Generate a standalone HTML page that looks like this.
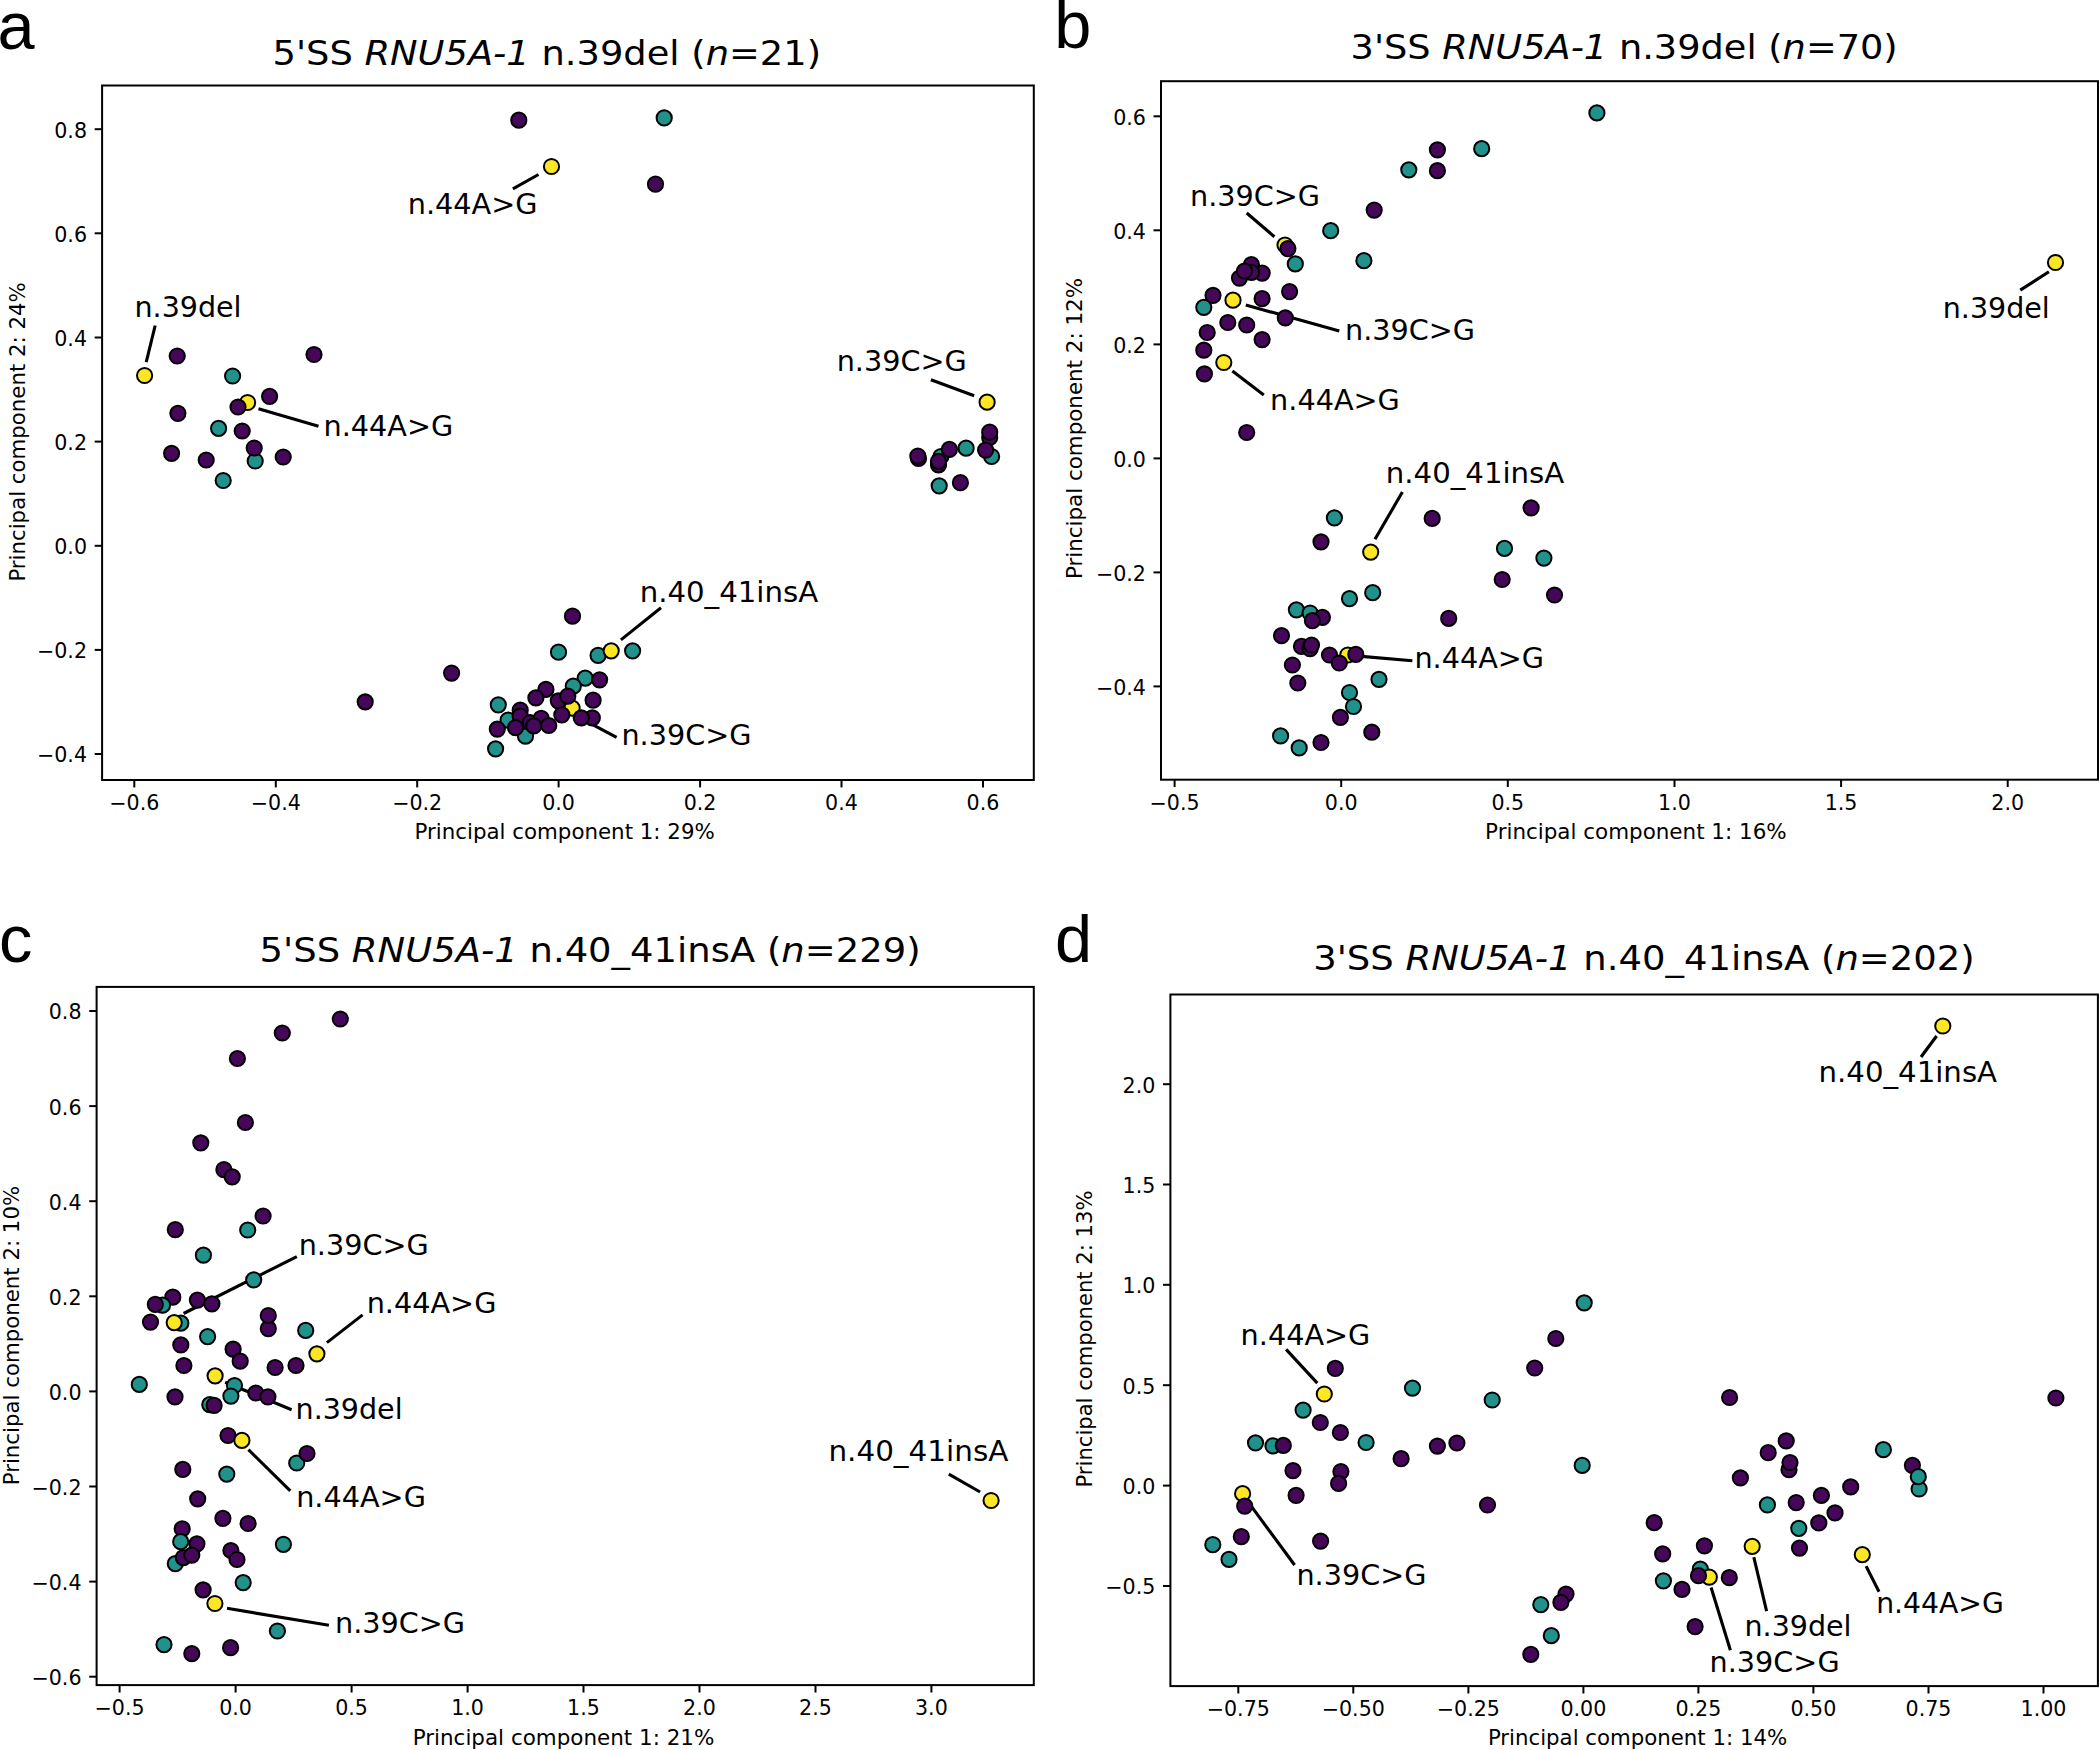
<!DOCTYPE html>
<html lang="en"><head><meta charset="utf-8"><title>PCA panels</title>
<style>html,body{margin:0;padding:0;background:#fff}svg{display:block}text{font-family:"DejaVu Sans", "Liberation Sans", sans-serif;fill:#000}.lt{font-family:"Liberation Sans", "DejaVu Sans", sans-serif}</style></head><body>
<svg width="2099" height="1750" viewBox="0 0 2099 1750">
<rect width="2099" height="1750" fill="#fff"/>
<g id="panel-a">
<g stroke="#000" stroke-width="3.1" fill="none">
<line x1="538.5" y1="174.5" x2="512.9" y2="188.8"/>
<line x1="155.2" y1="325.5" x2="146.2" y2="362.2"/>
<line x1="258.5" y1="408.8" x2="318.5" y2="426.2"/>
<line x1="930.9" y1="379.8" x2="974.2" y2="395.8"/>
<line x1="661.0" y1="607.8" x2="620.9" y2="639.9"/>
<line x1="593.1" y1="724.8" x2="616.6" y2="737.4"/>
</g>
<g stroke="#000" stroke-width="2.00">
<circle cx="518.8" cy="120.2" r="7.60" fill="#46065a"/>
<circle cx="664.2" cy="117.9" r="7.60" fill="#21918c"/>
<circle cx="551.5" cy="166.5" r="7.60" fill="#fde725"/>
<circle cx="655.5" cy="184.2" r="7.60" fill="#46065a"/>
<circle cx="144.6" cy="375.5" r="7.60" fill="#fde725"/>
<circle cx="177.2" cy="356.0" r="7.60" fill="#46065a"/>
<circle cx="314.0" cy="354.5" r="7.60" fill="#46065a"/>
<circle cx="232.6" cy="376.0" r="7.60" fill="#21918c"/>
<circle cx="247.6" cy="402.5" r="7.60" fill="#fde725"/>
<circle cx="238.0" cy="407.0" r="7.60" fill="#46065a"/>
<circle cx="269.6" cy="396.3" r="7.60" fill="#46065a"/>
<circle cx="177.9" cy="413.3" r="7.60" fill="#46065a"/>
<circle cx="218.6" cy="428.3" r="7.60" fill="#21918c"/>
<circle cx="242.2" cy="431.0" r="7.60" fill="#46065a"/>
<circle cx="255.2" cy="461.0" r="7.60" fill="#21918c"/>
<circle cx="254.2" cy="448.0" r="7.60" fill="#46065a"/>
<circle cx="283.2" cy="457.0" r="7.60" fill="#46065a"/>
<circle cx="171.6" cy="453.3" r="7.60" fill="#46065a"/>
<circle cx="206.2" cy="460.0" r="7.60" fill="#46065a"/>
<circle cx="223.2" cy="480.5" r="7.60" fill="#21918c"/>
<circle cx="987.1" cy="402.2" r="7.60" fill="#fde725"/>
<circle cx="989.7" cy="437.5" r="7.60" fill="#46065a"/>
<circle cx="989.7" cy="432.2" r="7.60" fill="#46065a"/>
<circle cx="991.6" cy="456.5" r="7.60" fill="#21918c"/>
<circle cx="985.6" cy="450.1" r="7.60" fill="#46065a"/>
<circle cx="966.1" cy="448.2" r="7.60" fill="#21918c"/>
<circle cx="940.9" cy="456.5" r="7.60" fill="#21918c"/>
<circle cx="949.4" cy="449.4" r="7.60" fill="#46065a"/>
<circle cx="918.5" cy="458.5" r="7.60" fill="#46065a"/>
<circle cx="917.8" cy="456.1" r="7.60" fill="#46065a"/>
<circle cx="938.5" cy="464.9" r="7.60" fill="#46065a"/>
<circle cx="938.5" cy="461.3" r="7.60" fill="#46065a"/>
<circle cx="939.2" cy="485.8" r="7.60" fill="#21918c"/>
<circle cx="960.4" cy="482.7" r="7.60" fill="#46065a"/>
<circle cx="572.5" cy="616.2" r="7.60" fill="#46065a"/>
<circle cx="451.6" cy="673.1" r="7.60" fill="#46065a"/>
<circle cx="365.2" cy="701.8" r="7.60" fill="#46065a"/>
<circle cx="558.5" cy="652.2" r="7.60" fill="#21918c"/>
<circle cx="598.1" cy="655.4" r="7.60" fill="#21918c"/>
<circle cx="611.2" cy="650.8" r="7.60" fill="#fde725"/>
<circle cx="632.6" cy="650.8" r="7.60" fill="#21918c"/>
<circle cx="585.2" cy="678.1" r="7.60" fill="#21918c"/>
<circle cx="599.6" cy="679.8" r="7.60" fill="#46065a"/>
<circle cx="573.3" cy="686.2" r="7.60" fill="#21918c"/>
<circle cx="545.9" cy="689.4" r="7.60" fill="#46065a"/>
<circle cx="535.9" cy="697.9" r="7.60" fill="#46065a"/>
<circle cx="558.3" cy="700.8" r="7.60" fill="#46065a"/>
<circle cx="572.1" cy="708.1" r="7.60" fill="#fde725"/>
<circle cx="567.8" cy="696.2" r="7.60" fill="#46065a"/>
<circle cx="593.1" cy="700.2" r="7.60" fill="#46065a"/>
<circle cx="561.8" cy="714.8" r="7.60" fill="#46065a"/>
<circle cx="592.3" cy="717.9" r="7.60" fill="#46065a"/>
<circle cx="581.3" cy="717.9" r="7.60" fill="#46065a"/>
<circle cx="498.3" cy="704.8" r="7.60" fill="#21918c"/>
<circle cx="520.2" cy="710.2" r="7.60" fill="#46065a"/>
<circle cx="508.1" cy="720.2" r="7.60" fill="#21918c"/>
<circle cx="520.2" cy="716.2" r="7.60" fill="#46065a"/>
<circle cx="525.5" cy="736.2" r="7.60" fill="#21918c"/>
<circle cx="530.2" cy="722.5" r="7.60" fill="#46065a"/>
<circle cx="541.2" cy="718.4" r="7.60" fill="#46065a"/>
<circle cx="497.3" cy="729.1" r="7.60" fill="#46065a"/>
<circle cx="515.5" cy="727.6" r="7.60" fill="#46065a"/>
<circle cx="533.8" cy="725.9" r="7.60" fill="#46065a"/>
<circle cx="548.8" cy="725.5" r="7.60" fill="#46065a"/>
<circle cx="495.6" cy="748.8" r="7.60" fill="#21918c"/>
</g>
<rect x="102.1" y="85.5" width="931.7" height="694.5" fill="none" stroke="#000" stroke-width="2.00"/>
<g stroke="#000" stroke-width="2.00">
<line x1="94.7" y1="129.2" x2="102.1" y2="129.2"/>
<line x1="94.7" y1="233.3" x2="102.1" y2="233.3"/>
<line x1="94.7" y1="337.5" x2="102.1" y2="337.5"/>
<line x1="94.7" y1="441.6" x2="102.1" y2="441.6"/>
<line x1="94.7" y1="545.8" x2="102.1" y2="545.8"/>
<line x1="94.7" y1="649.9" x2="102.1" y2="649.9"/>
<line x1="94.7" y1="754.0" x2="102.1" y2="754.0"/>
<line x1="134.3" y1="780.0" x2="134.3" y2="787.4"/>
<line x1="275.8" y1="780.0" x2="275.8" y2="787.4"/>
<line x1="417.2" y1="780.0" x2="417.2" y2="787.4"/>
<line x1="558.6" y1="780.0" x2="558.6" y2="787.4"/>
<line x1="700.1" y1="780.0" x2="700.1" y2="787.4"/>
<line x1="841.5" y1="780.0" x2="841.5" y2="787.4"/>
<line x1="983.0" y1="780.0" x2="983.0" y2="787.4"/>
</g>
<g font-size="20.60">
<text x="87.0" y="137.6" text-anchor="end">0.8</text>
<text x="87.0" y="241.8" text-anchor="end">0.6</text>
<text x="87.0" y="345.9" text-anchor="end">0.4</text>
<text x="87.0" y="450.0" text-anchor="end">0.2</text>
<text x="87.0" y="554.1" text-anchor="end">0.0</text>
<text x="87.0" y="658.3" text-anchor="end">−0.2</text>
<text x="87.0" y="762.4" text-anchor="end">−0.4</text>
<text x="134.3" y="810.0" text-anchor="middle">−0.6</text>
<text x="275.8" y="810.0" text-anchor="middle">−0.4</text>
<text x="417.2" y="810.0" text-anchor="middle">−0.2</text>
<text x="558.6" y="810.0" text-anchor="middle">0.0</text>
<text x="700.1" y="810.0" text-anchor="middle">0.2</text>
<text x="841.5" y="810.0" text-anchor="middle">0.4</text>
<text x="983.0" y="810.0" text-anchor="middle">0.6</text>
</g>
<text x="414.5" y="839.0" font-size="20.83" textLength="300.3" lengthAdjust="spacingAndGlyphs">Principal component 1: 29%</text>
<text transform="translate(24.7 581.6) rotate(-90)" font-size="20.83" textLength="299.4" lengthAdjust="spacingAndGlyphs">Principal component 2: 24%</text>
<g font-size="27.78">
<text x="407.8" y="214.1" textLength="129.7" lengthAdjust="spacingAndGlyphs">n.44A&gt;G</text>
<text x="134.5" y="317.4" textLength="107.0" lengthAdjust="spacingAndGlyphs">n.39del</text>
<text x="323.5" y="435.8" textLength="129.7" lengthAdjust="spacingAndGlyphs">n.44A&gt;G</text>
<text x="836.7" y="371.4" textLength="130.0" lengthAdjust="spacingAndGlyphs">n.39C&gt;G</text>
<text x="639.7" y="602.0" textLength="178.5" lengthAdjust="spacingAndGlyphs">n.40_41insA</text>
<text x="621.4" y="745.0" textLength="130.0" lengthAdjust="spacingAndGlyphs">n.39C&gt;G</text>
</g>
<text x="272.5" y="65.0" font-size="34.40" textLength="548.5" lengthAdjust="spacingAndGlyphs" xml:space="preserve">5&#39;SS <tspan font-style="italic">RNU5A-1</tspan> n.39del (<tspan font-style="italic">n</tspan>=21)</text>
<text class="lt" x="-2.5" y="48.8" font-size="66.7">a</text>
</g>
<g id="panel-b">
<g stroke="#000" stroke-width="3.1" fill="none">
<line x1="1246.7" y1="213.0" x2="1274.4" y2="236.7"/>
<line x1="1245.8" y1="305.0" x2="1339.3" y2="331.0"/>
<line x1="1232.4" y1="371.1" x2="1263.8" y2="395.1"/>
<line x1="2048.9" y1="271.7" x2="2020.3" y2="290.1"/>
<line x1="1402.4" y1="492.0" x2="1375.0" y2="539.2"/>
<line x1="1361.5" y1="656.4" x2="1412.4" y2="660.7"/>
</g>
<g stroke="#000" stroke-width="2.00">
<circle cx="1596.9" cy="112.9" r="7.60" fill="#21918c"/>
<circle cx="1437.4" cy="149.8" r="7.60" fill="#46065a"/>
<circle cx="1481.7" cy="148.7" r="7.60" fill="#21918c"/>
<circle cx="1408.8" cy="169.8" r="7.60" fill="#21918c"/>
<circle cx="1437.4" cy="170.7" r="7.60" fill="#46065a"/>
<circle cx="1374.2" cy="210.1" r="7.60" fill="#46065a"/>
<circle cx="1330.7" cy="230.7" r="7.60" fill="#21918c"/>
<circle cx="1363.9" cy="260.7" r="7.60" fill="#21918c"/>
<circle cx="1285.0" cy="245.0" r="7.60" fill="#fde725"/>
<circle cx="1287.9" cy="248.6" r="7.60" fill="#46065a"/>
<circle cx="1295.3" cy="263.9" r="7.60" fill="#21918c"/>
<circle cx="1251.4" cy="264.5" r="7.60" fill="#46065a"/>
<circle cx="1262.2" cy="273.1" r="7.60" fill="#46065a"/>
<circle cx="1251.5" cy="272.3" r="7.60" fill="#46065a"/>
<circle cx="1239.5" cy="278.1" r="7.60" fill="#46065a"/>
<circle cx="1244.5" cy="271.0" r="7.60" fill="#46065a"/>
<circle cx="1289.6" cy="291.6" r="7.60" fill="#46065a"/>
<circle cx="1213.0" cy="295.3" r="7.60" fill="#46065a"/>
<circle cx="1262.1" cy="298.7" r="7.60" fill="#46065a"/>
<circle cx="1233.0" cy="300.2" r="7.60" fill="#fde725"/>
<circle cx="1203.8" cy="307.3" r="7.60" fill="#21918c"/>
<circle cx="1285.3" cy="317.9" r="7.60" fill="#46065a"/>
<circle cx="1227.8" cy="322.5" r="7.60" fill="#46065a"/>
<circle cx="1246.7" cy="325.0" r="7.60" fill="#46065a"/>
<circle cx="1207.2" cy="332.5" r="7.60" fill="#46065a"/>
<circle cx="1262.1" cy="339.6" r="7.60" fill="#46065a"/>
<circle cx="1203.8" cy="350.2" r="7.60" fill="#46065a"/>
<circle cx="1223.8" cy="362.5" r="7.60" fill="#fde725"/>
<circle cx="1204.4" cy="373.9" r="7.60" fill="#46065a"/>
<circle cx="1246.7" cy="432.5" r="7.60" fill="#46065a"/>
<circle cx="2055.5" cy="262.5" r="7.60" fill="#fde725"/>
<circle cx="1334.4" cy="517.8" r="7.60" fill="#21918c"/>
<circle cx="1432.2" cy="518.4" r="7.60" fill="#46065a"/>
<circle cx="1531.1" cy="507.8" r="7.60" fill="#46065a"/>
<circle cx="1321.0" cy="541.8" r="7.60" fill="#46065a"/>
<circle cx="1370.7" cy="552.1" r="7.60" fill="#fde725"/>
<circle cx="1504.5" cy="548.4" r="7.60" fill="#21918c"/>
<circle cx="1543.9" cy="558.1" r="7.60" fill="#21918c"/>
<circle cx="1502.2" cy="579.5" r="7.60" fill="#46065a"/>
<circle cx="1554.5" cy="595.0" r="7.60" fill="#46065a"/>
<circle cx="1372.7" cy="592.7" r="7.60" fill="#21918c"/>
<circle cx="1349.5" cy="598.7" r="7.60" fill="#21918c"/>
<circle cx="1448.7" cy="618.4" r="7.60" fill="#46065a"/>
<circle cx="1296.4" cy="609.8" r="7.60" fill="#21918c"/>
<circle cx="1310.1" cy="613.0" r="7.60" fill="#21918c"/>
<circle cx="1322.4" cy="617.3" r="7.60" fill="#46065a"/>
<circle cx="1312.4" cy="620.7" r="7.60" fill="#46065a"/>
<circle cx="1281.5" cy="635.6" r="7.60" fill="#46065a"/>
<circle cx="1301.5" cy="646.4" r="7.60" fill="#46065a"/>
<circle cx="1310.1" cy="648.7" r="7.60" fill="#46065a"/>
<circle cx="1311.5" cy="645.0" r="7.60" fill="#46065a"/>
<circle cx="1329.5" cy="655.0" r="7.60" fill="#46065a"/>
<circle cx="1347.8" cy="655.0" r="7.60" fill="#fde725"/>
<circle cx="1339.3" cy="663.0" r="7.60" fill="#46065a"/>
<circle cx="1355.8" cy="654.4" r="7.60" fill="#46065a"/>
<circle cx="1292.4" cy="665.0" r="7.60" fill="#46065a"/>
<circle cx="1297.8" cy="683.0" r="7.60" fill="#46065a"/>
<circle cx="1379.0" cy="679.3" r="7.60" fill="#21918c"/>
<circle cx="1349.5" cy="692.5" r="7.60" fill="#21918c"/>
<circle cx="1353.5" cy="706.5" r="7.60" fill="#21918c"/>
<circle cx="1340.4" cy="717.3" r="7.60" fill="#46065a"/>
<circle cx="1371.8" cy="732.2" r="7.60" fill="#46065a"/>
<circle cx="1280.6" cy="735.9" r="7.60" fill="#21918c"/>
<circle cx="1299.2" cy="747.9" r="7.60" fill="#21918c"/>
<circle cx="1321.0" cy="742.5" r="7.60" fill="#46065a"/>
</g>
<rect x="1161.0" y="81.2" width="937.0" height="698.5" fill="none" stroke="#000" stroke-width="2.00"/>
<g stroke="#000" stroke-width="2.00">
<line x1="1153.5" y1="116.3" x2="1161.0" y2="116.3"/>
<line x1="1153.5" y1="230.3" x2="1161.0" y2="230.3"/>
<line x1="1153.5" y1="344.4" x2="1161.0" y2="344.4"/>
<line x1="1153.5" y1="458.4" x2="1161.0" y2="458.4"/>
<line x1="1153.5" y1="572.4" x2="1161.0" y2="572.4"/>
<line x1="1153.5" y1="686.4" x2="1161.0" y2="686.4"/>
<line x1="1174.6" y1="779.6" x2="1174.6" y2="787.0"/>
<line x1="1341.2" y1="779.6" x2="1341.2" y2="787.0"/>
<line x1="1507.8" y1="779.6" x2="1507.8" y2="787.0"/>
<line x1="1674.5" y1="779.6" x2="1674.5" y2="787.0"/>
<line x1="1841.1" y1="779.6" x2="1841.1" y2="787.0"/>
<line x1="2007.7" y1="779.6" x2="2007.7" y2="787.0"/>
</g>
<g font-size="20.60">
<text x="1145.9" y="124.8" text-anchor="end">0.6</text>
<text x="1145.9" y="238.8" text-anchor="end">0.4</text>
<text x="1145.9" y="352.8" text-anchor="end">0.2</text>
<text x="1145.9" y="466.8" text-anchor="end">0.0</text>
<text x="1145.9" y="580.8" text-anchor="end">−0.2</text>
<text x="1145.9" y="694.8" text-anchor="end">−0.4</text>
<text x="1174.6" y="809.6" text-anchor="middle">−0.5</text>
<text x="1341.2" y="809.6" text-anchor="middle">0.0</text>
<text x="1507.8" y="809.6" text-anchor="middle">0.5</text>
<text x="1674.5" y="809.6" text-anchor="middle">1.0</text>
<text x="1841.1" y="809.6" text-anchor="middle">1.5</text>
<text x="2007.7" y="809.6" text-anchor="middle">2.0</text>
</g>
<text x="1485.1" y="838.8" font-size="20.83" textLength="301.6" lengthAdjust="spacingAndGlyphs">Principal component 1: 16%</text>
<text transform="translate(1082.1 579.0) rotate(-90)" font-size="20.83" textLength="301.0" lengthAdjust="spacingAndGlyphs">Principal component 2: 12%</text>
<g font-size="27.78">
<text x="1190.0" y="206.1" textLength="130.0" lengthAdjust="spacingAndGlyphs">n.39C&gt;G</text>
<text x="1345.0" y="340.1" textLength="130.0" lengthAdjust="spacingAndGlyphs">n.39C&gt;G</text>
<text x="1270.1" y="410.1" textLength="129.7" lengthAdjust="spacingAndGlyphs">n.44A&gt;G</text>
<text x="1942.8" y="318.4" textLength="107.0" lengthAdjust="spacingAndGlyphs">n.39del</text>
<text x="1385.8" y="483.1" textLength="178.5" lengthAdjust="spacingAndGlyphs">n.40_41insA</text>
<text x="1414.4" y="668.0" textLength="129.7" lengthAdjust="spacingAndGlyphs">n.44A&gt;G</text>
</g>
<text x="1350.6" y="58.6" font-size="34.40" textLength="547.1" lengthAdjust="spacingAndGlyphs" xml:space="preserve">3&#39;SS <tspan font-style="italic">RNU5A-1</tspan> n.39del (<tspan font-style="italic">n</tspan>=70)</text>
<text class="lt" x="1054.3" y="47.8" font-size="66.7">b</text>
</g>
<g id="panel-c">
<g stroke="#000" stroke-width="3.1" fill="none">
<line x1="296.8" y1="1256.6" x2="183.6" y2="1313.5"/>
<line x1="362.6" y1="1314.9" x2="326.9" y2="1342.6"/>
<line x1="225.2" y1="1382.2" x2="291.6" y2="1409.7"/>
<line x1="248.4" y1="1449.6" x2="290.3" y2="1490.8"/>
<line x1="227.0" y1="1608.3" x2="328.9" y2="1625.3"/>
<line x1="948.8" y1="1474.1" x2="980.1" y2="1492.0"/>
</g>
<g stroke="#000" stroke-width="2.00">
<circle cx="340.3" cy="1019.0" r="7.60" fill="#46065a"/>
<circle cx="282.3" cy="1033.0" r="7.60" fill="#46065a"/>
<circle cx="237.4" cy="1058.5" r="7.60" fill="#46065a"/>
<circle cx="245.4" cy="1122.5" r="7.60" fill="#46065a"/>
<circle cx="200.8" cy="1142.8" r="7.60" fill="#46065a"/>
<circle cx="223.9" cy="1169.7" r="7.60" fill="#46065a"/>
<circle cx="232.2" cy="1176.8" r="7.60" fill="#46065a"/>
<circle cx="263.1" cy="1216.0" r="7.60" fill="#46065a"/>
<circle cx="247.7" cy="1230.0" r="7.60" fill="#21918c"/>
<circle cx="175.3" cy="1229.7" r="7.60" fill="#46065a"/>
<circle cx="203.4" cy="1255.2" r="7.60" fill="#21918c"/>
<circle cx="253.7" cy="1279.8" r="7.60" fill="#21918c"/>
<circle cx="172.8" cy="1297.2" r="7.60" fill="#46065a"/>
<circle cx="162.5" cy="1305.2" r="7.60" fill="#21918c"/>
<circle cx="155.3" cy="1304.3" r="7.60" fill="#46065a"/>
<circle cx="197.4" cy="1300.1" r="7.60" fill="#46065a"/>
<circle cx="211.9" cy="1303.8" r="7.60" fill="#46065a"/>
<circle cx="150.5" cy="1322.1" r="7.60" fill="#46065a"/>
<circle cx="180.8" cy="1323.2" r="7.60" fill="#21918c"/>
<circle cx="174.2" cy="1322.6" r="7.60" fill="#fde725"/>
<circle cx="268.3" cy="1328.6" r="7.60" fill="#46065a"/>
<circle cx="268.3" cy="1315.5" r="7.60" fill="#46065a"/>
<circle cx="305.7" cy="1330.4" r="7.60" fill="#21918c"/>
<circle cx="207.6" cy="1336.6" r="7.60" fill="#21918c"/>
<circle cx="180.8" cy="1344.9" r="7.60" fill="#46065a"/>
<circle cx="233.1" cy="1349.2" r="7.60" fill="#46065a"/>
<circle cx="316.9" cy="1353.8" r="7.60" fill="#fde725"/>
<circle cx="240.2" cy="1361.2" r="7.60" fill="#46065a"/>
<circle cx="183.9" cy="1365.5" r="7.60" fill="#46065a"/>
<circle cx="275.1" cy="1367.5" r="7.60" fill="#46065a"/>
<circle cx="296.0" cy="1365.5" r="7.60" fill="#46065a"/>
<circle cx="215.1" cy="1375.8" r="7.60" fill="#fde725"/>
<circle cx="139.3" cy="1384.4" r="7.60" fill="#21918c"/>
<circle cx="234.5" cy="1385.5" r="7.60" fill="#21918c"/>
<circle cx="230.9" cy="1396.1" r="7.60" fill="#21918c"/>
<circle cx="255.8" cy="1393.0" r="7.60" fill="#46065a"/>
<circle cx="267.9" cy="1396.9" r="7.60" fill="#46065a"/>
<circle cx="175.0" cy="1396.9" r="7.60" fill="#46065a"/>
<circle cx="209.8" cy="1404.6" r="7.60" fill="#21918c"/>
<circle cx="214.1" cy="1405.4" r="7.60" fill="#46065a"/>
<circle cx="228.0" cy="1435.5" r="7.60" fill="#46065a"/>
<circle cx="241.9" cy="1440.4" r="7.60" fill="#fde725"/>
<circle cx="296.7" cy="1463.0" r="7.60" fill="#21918c"/>
<circle cx="307.0" cy="1453.5" r="7.60" fill="#46065a"/>
<circle cx="182.8" cy="1469.4" r="7.60" fill="#46065a"/>
<circle cx="226.8" cy="1474.1" r="7.60" fill="#21918c"/>
<circle cx="197.7" cy="1498.8" r="7.60" fill="#46065a"/>
<circle cx="222.9" cy="1518.3" r="7.60" fill="#46065a"/>
<circle cx="248.1" cy="1523.5" r="7.60" fill="#46065a"/>
<circle cx="182.2" cy="1528.9" r="7.60" fill="#46065a"/>
<circle cx="180.7" cy="1541.7" r="7.60" fill="#21918c"/>
<circle cx="196.9" cy="1543.8" r="7.60" fill="#46065a"/>
<circle cx="283.4" cy="1544.3" r="7.60" fill="#21918c"/>
<circle cx="230.9" cy="1550.5" r="7.60" fill="#46065a"/>
<circle cx="237.0" cy="1559.5" r="7.60" fill="#46065a"/>
<circle cx="175.3" cy="1563.6" r="7.60" fill="#21918c"/>
<circle cx="183.3" cy="1557.7" r="7.60" fill="#46065a"/>
<circle cx="191.8" cy="1555.1" r="7.60" fill="#46065a"/>
<circle cx="243.2" cy="1582.6" r="7.60" fill="#21918c"/>
<circle cx="203.1" cy="1589.8" r="7.60" fill="#46065a"/>
<circle cx="214.9" cy="1603.5" r="7.60" fill="#fde725"/>
<circle cx="277.4" cy="1631.0" r="7.60" fill="#21918c"/>
<circle cx="164.0" cy="1644.6" r="7.60" fill="#21918c"/>
<circle cx="191.8" cy="1653.6" r="7.60" fill="#46065a"/>
<circle cx="230.6" cy="1647.7" r="7.60" fill="#46065a"/>
<circle cx="991.1" cy="1500.5" r="7.60" fill="#fde725"/>
</g>
<rect x="96.6" y="986.9" width="937.2" height="698.2" fill="none" stroke="#000" stroke-width="2.00"/>
<g stroke="#000" stroke-width="2.00">
<line x1="89.2" y1="1011.0" x2="96.6" y2="1011.0"/>
<line x1="89.2" y1="1106.1" x2="96.6" y2="1106.1"/>
<line x1="89.2" y1="1201.2" x2="96.6" y2="1201.2"/>
<line x1="89.2" y1="1296.3" x2="96.6" y2="1296.3"/>
<line x1="89.2" y1="1391.4" x2="96.6" y2="1391.4"/>
<line x1="89.2" y1="1486.5" x2="96.6" y2="1486.5"/>
<line x1="89.2" y1="1581.6" x2="96.6" y2="1581.6"/>
<line x1="89.2" y1="1676.7" x2="96.6" y2="1676.7"/>
<line x1="119.6" y1="1685.1" x2="119.6" y2="1692.5"/>
<line x1="235.6" y1="1685.1" x2="235.6" y2="1692.5"/>
<line x1="351.6" y1="1685.1" x2="351.6" y2="1692.5"/>
<line x1="467.6" y1="1685.1" x2="467.6" y2="1692.5"/>
<line x1="583.5" y1="1685.1" x2="583.5" y2="1692.5"/>
<line x1="699.5" y1="1685.1" x2="699.5" y2="1692.5"/>
<line x1="815.5" y1="1685.1" x2="815.5" y2="1692.5"/>
<line x1="931.4" y1="1685.1" x2="931.4" y2="1692.5"/>
</g>
<g font-size="20.60">
<text x="81.5" y="1019.4" text-anchor="end">0.8</text>
<text x="81.5" y="1114.5" text-anchor="end">0.6</text>
<text x="81.5" y="1209.6" text-anchor="end">0.4</text>
<text x="81.5" y="1304.7" text-anchor="end">0.2</text>
<text x="81.5" y="1399.8" text-anchor="end">0.0</text>
<text x="81.5" y="1494.9" text-anchor="end">−0.2</text>
<text x="81.5" y="1590.0" text-anchor="end">−0.4</text>
<text x="81.5" y="1685.1" text-anchor="end">−0.6</text>
<text x="119.6" y="1715.1" text-anchor="middle">−0.5</text>
<text x="235.6" y="1715.1" text-anchor="middle">0.0</text>
<text x="351.6" y="1715.1" text-anchor="middle">0.5</text>
<text x="467.6" y="1715.1" text-anchor="middle">1.0</text>
<text x="583.5" y="1715.1" text-anchor="middle">1.5</text>
<text x="699.5" y="1715.1" text-anchor="middle">2.0</text>
<text x="815.5" y="1715.1" text-anchor="middle">2.5</text>
<text x="931.4" y="1715.1" text-anchor="middle">3.0</text>
</g>
<text x="412.7" y="1744.6" font-size="20.83" textLength="301.7" lengthAdjust="spacingAndGlyphs">Principal component 1: 21%</text>
<text transform="translate(18.5 1485.3) rotate(-90)" font-size="20.83" textLength="299.5" lengthAdjust="spacingAndGlyphs">Principal component 2: 10%</text>
<g font-size="27.78">
<text x="298.7" y="1255.2" textLength="130.0" lengthAdjust="spacingAndGlyphs">n.39C&gt;G</text>
<text x="366.7" y="1313.2" textLength="129.7" lengthAdjust="spacingAndGlyphs">n.44A&gt;G</text>
<text x="295.6" y="1419.0" textLength="107.0" lengthAdjust="spacingAndGlyphs">n.39del</text>
<text x="296.2" y="1506.5" textLength="129.7" lengthAdjust="spacingAndGlyphs">n.44A&gt;G</text>
<text x="335.0" y="1632.7" textLength="130.0" lengthAdjust="spacingAndGlyphs">n.39C&gt;G</text>
<text x="828.4" y="1461.0" textLength="180.0" lengthAdjust="spacingAndGlyphs">n.40_41insA</text>
</g>
<text x="259.6" y="962.4" font-size="34.40" textLength="661.0" lengthAdjust="spacingAndGlyphs" xml:space="preserve">5&#39;SS <tspan font-style="italic">RNU5A-1</tspan> n.40_41insA (<tspan font-style="italic">n</tspan>=229)</text>
<text class="lt" x="-1.0" y="962.0" font-size="66.7">c</text>
</g>
<g id="panel-d">
<g stroke="#000" stroke-width="3.1" fill="none">
<line x1="1936.6" y1="1036.0" x2="1921.0" y2="1057.0"/>
<line x1="1286.1" y1="1349.4" x2="1317.3" y2="1383.1"/>
<line x1="1249.0" y1="1503.2" x2="1294.6" y2="1565.0"/>
<line x1="1866.1" y1="1566.1" x2="1879.0" y2="1591.8"/>
<line x1="1753.8" y1="1557.1" x2="1766.6" y2="1611.1"/>
<line x1="1711.1" y1="1587.5" x2="1730.4" y2="1650.2"/>
</g>
<g stroke="#000" stroke-width="2.00">
<circle cx="1942.8" cy="1026.0" r="7.60" fill="#fde725"/>
<circle cx="1584.2" cy="1302.8" r="7.60" fill="#21918c"/>
<circle cx="1555.8" cy="1338.5" r="7.60" fill="#46065a"/>
<circle cx="1534.7" cy="1368.0" r="7.60" fill="#46065a"/>
<circle cx="1335.3" cy="1368.3" r="7.60" fill="#46065a"/>
<circle cx="1412.5" cy="1388.1" r="7.60" fill="#21918c"/>
<circle cx="1324.3" cy="1394.0" r="7.60" fill="#fde725"/>
<circle cx="1492.2" cy="1400.0" r="7.60" fill="#21918c"/>
<circle cx="1303.1" cy="1410.1" r="7.60" fill="#21918c"/>
<circle cx="1320.3" cy="1422.5" r="7.60" fill="#46065a"/>
<circle cx="1340.4" cy="1432.5" r="7.60" fill="#46065a"/>
<circle cx="1366.1" cy="1442.5" r="7.60" fill="#21918c"/>
<circle cx="1255.5" cy="1442.8" r="7.60" fill="#21918c"/>
<circle cx="1273.0" cy="1445.9" r="7.60" fill="#21918c"/>
<circle cx="1283.3" cy="1445.4" r="7.60" fill="#46065a"/>
<circle cx="1437.4" cy="1446.1" r="7.60" fill="#46065a"/>
<circle cx="1456.9" cy="1443.0" r="7.60" fill="#46065a"/>
<circle cx="1401.1" cy="1458.7" r="7.60" fill="#46065a"/>
<circle cx="1582.2" cy="1465.4" r="7.60" fill="#21918c"/>
<circle cx="1293.0" cy="1470.6" r="7.60" fill="#46065a"/>
<circle cx="1340.9" cy="1471.6" r="7.60" fill="#46065a"/>
<circle cx="1338.6" cy="1483.4" r="7.60" fill="#46065a"/>
<circle cx="1242.6" cy="1493.7" r="7.60" fill="#fde725"/>
<circle cx="1244.7" cy="1506.1" r="7.60" fill="#46065a"/>
<circle cx="1296.1" cy="1495.3" r="7.60" fill="#46065a"/>
<circle cx="1487.5" cy="1505.0" r="7.60" fill="#46065a"/>
<circle cx="1241.3" cy="1536.7" r="7.60" fill="#46065a"/>
<circle cx="1212.8" cy="1544.7" r="7.60" fill="#21918c"/>
<circle cx="1229.0" cy="1559.3" r="7.60" fill="#21918c"/>
<circle cx="1320.6" cy="1541.1" r="7.60" fill="#46065a"/>
<circle cx="1654.2" cy="1522.6" r="7.60" fill="#46065a"/>
<circle cx="1662.7" cy="1553.9" r="7.60" fill="#46065a"/>
<circle cx="1663.4" cy="1580.8" r="7.60" fill="#21918c"/>
<circle cx="1682.0" cy="1589.4" r="7.60" fill="#46065a"/>
<circle cx="1566.0" cy="1594.1" r="7.60" fill="#46065a"/>
<circle cx="1560.9" cy="1602.3" r="7.60" fill="#46065a"/>
<circle cx="1540.8" cy="1604.6" r="7.60" fill="#21918c"/>
<circle cx="1551.3" cy="1635.7" r="7.60" fill="#21918c"/>
<circle cx="1530.8" cy="1654.3" r="7.60" fill="#46065a"/>
<circle cx="1695.1" cy="1626.6" r="7.60" fill="#46065a"/>
<circle cx="1729.6" cy="1397.5" r="7.60" fill="#46065a"/>
<circle cx="2055.9" cy="1398.0" r="7.60" fill="#46065a"/>
<circle cx="1786.2" cy="1440.9" r="7.60" fill="#46065a"/>
<circle cx="1768.2" cy="1452.7" r="7.60" fill="#46065a"/>
<circle cx="1789.0" cy="1469.7" r="7.60" fill="#46065a"/>
<circle cx="1790.0" cy="1462.5" r="7.60" fill="#46065a"/>
<circle cx="1883.4" cy="1449.7" r="7.60" fill="#21918c"/>
<circle cx="1919.1" cy="1489.0" r="7.60" fill="#21918c"/>
<circle cx="1912.4" cy="1465.3" r="7.60" fill="#46065a"/>
<circle cx="1918.3" cy="1476.7" r="7.60" fill="#21918c"/>
<circle cx="1740.4" cy="1477.9" r="7.60" fill="#46065a"/>
<circle cx="1850.7" cy="1486.9" r="7.60" fill="#46065a"/>
<circle cx="1821.4" cy="1495.4" r="7.60" fill="#46065a"/>
<circle cx="1767.4" cy="1504.9" r="7.60" fill="#21918c"/>
<circle cx="1796.2" cy="1502.6" r="7.60" fill="#46065a"/>
<circle cx="1835.0" cy="1512.9" r="7.60" fill="#46065a"/>
<circle cx="1818.8" cy="1522.9" r="7.60" fill="#46065a"/>
<circle cx="1798.8" cy="1528.3" r="7.60" fill="#21918c"/>
<circle cx="1799.5" cy="1548.1" r="7.60" fill="#46065a"/>
<circle cx="1752.2" cy="1546.3" r="7.60" fill="#fde725"/>
<circle cx="1862.3" cy="1554.6" r="7.60" fill="#fde725"/>
<circle cx="1704.4" cy="1545.8" r="7.60" fill="#46065a"/>
<circle cx="1700.3" cy="1569.2" r="7.60" fill="#21918c"/>
<circle cx="1709.3" cy="1577.2" r="7.60" fill="#fde725"/>
<circle cx="1698.5" cy="1575.7" r="7.60" fill="#46065a"/>
<circle cx="1729.3" cy="1577.7" r="7.60" fill="#46065a"/>
</g>
<rect x="1170.4" y="994.5" width="927.5" height="691.6" fill="none" stroke="#000" stroke-width="2.00"/>
<g stroke="#000" stroke-width="2.00">
<line x1="1163.0" y1="1084.2" x2="1170.4" y2="1084.2"/>
<line x1="1163.0" y1="1184.5" x2="1170.4" y2="1184.5"/>
<line x1="1163.0" y1="1284.8" x2="1170.4" y2="1284.8"/>
<line x1="1163.0" y1="1385.2" x2="1170.4" y2="1385.2"/>
<line x1="1163.0" y1="1485.6" x2="1170.4" y2="1485.6"/>
<line x1="1163.0" y1="1586.0" x2="1170.4" y2="1586.0"/>
<line x1="1238.3" y1="1686.1" x2="1238.3" y2="1693.5"/>
<line x1="1353.3" y1="1686.1" x2="1353.3" y2="1693.5"/>
<line x1="1468.4" y1="1686.1" x2="1468.4" y2="1693.5"/>
<line x1="1583.4" y1="1686.1" x2="1583.4" y2="1693.5"/>
<line x1="1698.4" y1="1686.1" x2="1698.4" y2="1693.5"/>
<line x1="1813.4" y1="1686.1" x2="1813.4" y2="1693.5"/>
<line x1="1928.5" y1="1686.1" x2="1928.5" y2="1693.5"/>
<line x1="2043.5" y1="1686.1" x2="2043.5" y2="1693.5"/>
</g>
<g font-size="20.60">
<text x="1155.3" y="1092.6" text-anchor="end">2.0</text>
<text x="1155.3" y="1192.9" text-anchor="end">1.5</text>
<text x="1155.3" y="1293.2" text-anchor="end">1.0</text>
<text x="1155.3" y="1393.6" text-anchor="end">0.5</text>
<text x="1155.3" y="1494.0" text-anchor="end">0.0</text>
<text x="1155.3" y="1594.4" text-anchor="end">−0.5</text>
<text x="1238.3" y="1716.1" text-anchor="middle">−0.75</text>
<text x="1353.3" y="1716.1" text-anchor="middle">−0.50</text>
<text x="1468.4" y="1716.1" text-anchor="middle">−0.25</text>
<text x="1583.4" y="1716.1" text-anchor="middle">0.00</text>
<text x="1698.4" y="1716.1" text-anchor="middle">0.25</text>
<text x="1813.4" y="1716.1" text-anchor="middle">0.50</text>
<text x="1928.5" y="1716.1" text-anchor="middle">0.75</text>
<text x="2043.5" y="1716.1" text-anchor="middle">1.00</text>
</g>
<text x="1487.9" y="1744.6" font-size="20.83" textLength="299.3" lengthAdjust="spacingAndGlyphs">Principal component 1: 14%</text>
<text transform="translate(1091.8 1487.5) rotate(-90)" font-size="20.83" textLength="297.0" lengthAdjust="spacingAndGlyphs">Principal component 2: 13%</text>
<g font-size="27.78">
<text x="1818.5" y="1082.3" textLength="178.6" lengthAdjust="spacingAndGlyphs">n.40_41insA</text>
<text x="1240.6" y="1344.5" textLength="129.7" lengthAdjust="spacingAndGlyphs">n.44A&gt;G</text>
<text x="1296.4" y="1585.0" textLength="130.0" lengthAdjust="spacingAndGlyphs">n.39C&gt;G</text>
<text x="1876.2" y="1613.2" textLength="127.7" lengthAdjust="spacingAndGlyphs">n.44A&gt;G</text>
<text x="1744.5" y="1636.3" textLength="107.0" lengthAdjust="spacingAndGlyphs">n.39del</text>
<text x="1709.6" y="1672.3" textLength="130.0" lengthAdjust="spacingAndGlyphs">n.39C&gt;G</text>
</g>
<text x="1313.2" y="970.3" font-size="34.40" textLength="661.6" lengthAdjust="spacingAndGlyphs" xml:space="preserve">3&#39;SS <tspan font-style="italic">RNU5A-1</tspan> n.40_41insA (<tspan font-style="italic">n</tspan>=202)</text>
<text class="lt" x="1055.0" y="962.0" font-size="66.7">d</text>
</g>
</svg></body></html>
